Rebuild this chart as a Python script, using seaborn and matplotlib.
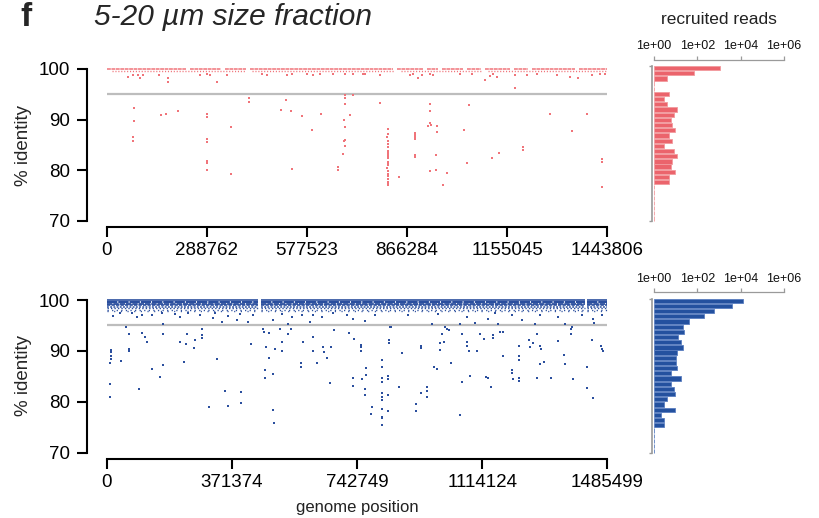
import numpy as np
import pandas as pd
import matplotlib
matplotlib.use("Agg")
import matplotlib.pyplot as plt
import seaborn as sns

sns.set_theme(style="white")
plt.rcParams["font.family"] = ["Liberation Sans", "DejaVu Sans"]

# ---------------- data ----------------
top_len = 1443806
bot_len = 1485499
top_xticks = [0, 288762, 577523, 866284, 1155045, 1443806]
bot_xticks = [0, 371374, 742749, 1114124, 1485499]
y_ticks = [70, 80, 90, 100]
hist_ticks = [1, 1e2, 1e4, 1e6]
hist_tick_labels = ["1e+00", "1e+02", "1e+04", "1e+06"]
hist_bins = list(range(100, 70, -1))  # 100 .. 71

top_counts = [1100, 68, 4, 0, 0, 5, 3, 4, 12, 8, 6, 7, 9, 5, 7, 3, 8, 11,
              7, 6, 9, 5, 5, 0, 0, 0, 0, 0, 0, 0]
bot_counts = [12900, 3800, 610, 196, 43, 22, 23, 13, 18, 22, 12, 10, 10, 11,
              6, 18, 6, 8, 9, 4, 3, 9, 2, 3, 3, 0, 0, 0, 0, 0]

# dense near-identical read rows (identity level, segment starts, segment ends)
top_row_levels = [100.0, 99.6]
top_row_starts = [[0, 240e3, 340e3, 412e3, 836e3, 923e3, 966e3, 1038e3, 1090e3, 1174e3, 1226e3, 1361e3],
                  [15e3, 420e3, 850e3, 1100e3]]
top_row_ends = [[230e3, 330e3, 402e3, 826e3, 913e3, 956e3, 1028e3, 1080e3, 1164e3, 1216e3, 1351e3, 1443806],
                [400e3, 830e3, 1080e3, 1440e3]]

bot_row_levels = [100.0, 99.55, 99.25, 98.95, 98.65, 98.35, 98.05, 97.75]
bot_row_starts = [0, 457e3, 1425e3]
bot_row_ends = [450e3, 1418e3, 1485499]

top_pts_x = [77900, 77900, 76000, 76000, 157500, 172000, 206500, 288400, 288400, 288400, 288400,
             288400, 288400, 288400, 358500, 358500, 409600, 409600, 501800, 516300, 531600,
             534500, 563400, 591300, 618100, 666300, 666300, 680700, 683000, 686000, 687000,
             685000, 687000, 687000, 687000, 710000, 701800, 687000, 787400,
             812300, 812300, 812300, 812300, 812300, 812300, 812300, 812300, 812300, 812300,
             812300, 812300, 812300, 812300, 812300, 812300, 812300, 812300, 812300, 812300,
             809000, 809000,
             844100, 890300, 890300, 890300, 890300, 890300, 890300, 926000, 932600, 933500,
             933500, 934000, 953700, 953000, 950000, 932600, 950000, 980600, 969000, 1030600,
             1039300, 1045000, 1110400, 1131500, 1200700, 1200700, 1278600, 1341200, 1384400,
             1428600, 1428600, 1428600, 1176800,
             62300, 91200, 96000, 76700, 105600, 177700, 177700, 151700, 269100, 288400, 297900,
             317300, 346100, 447000, 461500, 519200, 533600, 576800, 596000, 615200, 653600,
             687300, 711300, 740100, 745000, 788200, 874800, 898800, 884300, 908500, 932500,
             942100, 1019000, 1052700, 1091100, 1105500, 1124800, 1115000, 1177600, 1211400,
             1240200, 1297900, 1336300, 1360200, 1398800, 1422800, 1437200]
top_pts_y = [92.35, 89.8, 86.6, 85.8, 90.9, 91.0, 91.6, 91.0, 90.5, 86.2, 85.6,
             81.8, 81.4, 80.0, 88.5, 79.2, 94.2, 93.5, 91.9, 93.8, 91.7,
             80.3, 90.8, 88.0, 91.0, 80.7, 80.1, 83.1, 85.8, 86.0, 84.8,
             90.0, 93.0, 94.3, 94.9, 94.9, 90.9, 88.6, 93.3,
             88.14, 87.15, 85.77, 85.18, 84.52, 83.86, 83.40, 83.07, 82.81, 82.41,
             81.55, 81.29, 80.96, 79.84, 79.31, 78.92, 78.26, 77.73, 77.40, 77.08,
             86.5, 80.5,
             78.6, 87.3, 86.9, 86.6, 86.2, 83.0, 82.5, 88.7, 93.0, 91.6,
             89.3, 88.9, 88.7, 87.6, 82.9, 79.9, 80.1, 79.4, 77.1, 87.9,
             81.5, 92.9, 82.4, 83.3, 84.6, 83.9, 91.0, 87.7, 91.1,
             82.2, 81.7, 76.7, 96.2,
             98.4, 98.8, 98.2, 98.8, 98.8, 98.2, 97.5, 98.8, 98.8, 99.0, 98.8,
             97.5, 98.8, 99.0, 98.8, 98.8, 99.0, 99.1, 98.8, 99.1, 99.1,
             99.0, 99.0, 99.0, 99.1, 98.8, 98.8, 98.2, 99.0, 98.8, 99.0,
             98.8, 99.0, 99.0, 97.8, 98.6, 98.4, 99.1, 98.8, 98.8,
             99.1, 98.8, 98.4, 98.2, 98.8, 99.1, 99.0]

bot_pts_x = [9800, 12800, 12800, 12800, 12800, 10700, 10700, 41500, 57300, 66200, 66200, 67000,
             95800, 103900, 112800, 119600, 134400, 158200, 167100, 167100, 217500, 228500,
             234400, 239200, 260000, 262000, 283800, 283800, 283800, 302600, 328300, 350200,
             360000, 397700, 398500, 428200, 464700, 465500, 472700, 470700, 470000, 482500,
             482500, 492600, 494400, 496000, 500300, 513400, 519300, 519300, 537100, 546900,
             576600, 576600, 581600, 613100, 612500, 624100, 642000, 645000, 652800, 662600,
             665600, 674500, 719900, 734800, 731800, 731800, 753700, 755000, 753700, 758500,
             765600, 765600, 768600, 768600, 786400, 783400,
             817900, 817900, 817900, 817900, 817900, 817900, 817900, 817900, 817900, 817900, 817900,
             834800, 834800, 835500, 834800, 836800, 836800, 843700, 868300, 877200, 916900,
             916900, 931800, 931800, 931800, 951400, 951400, 951400, 972100, 979000, 988200,
             990000, 1000900, 995900, 1009800, 1016000, 1021700, 1048400, 1055300, 1053500,
             1068300, 1069300, 1076000, 1077200, 1098000, 1107800, 1119700, 1127000, 1133000,
             1140400, 1145400, 1145400, 1168000, 1177000, 1175100, 1204200, 1204200, 1205000,
             1222600, 1222600, 1223500, 1223500, 1223500, 1253200, 1257200, 1264100, 1277800,
             1276000, 1285700, 1287700, 1285700, 1298600, 1318500, 1338400, 1358000, 1361000,
             1376900, 1376900, 1384700, 1424400, 1424400, 1439200, 1442200, 1467800, 1470800,
             1471800,
             19600, 39500, 74200, 89000, 103900, 133500, 163200, 168000, 202700, 217500, 242100,
             276900, 316300, 321400, 341300, 360800, 385800, 395600, 420200, 435000, 494400,
             519300, 538900, 549000, 578700, 603300, 613100, 638000, 672500, 712200, 731800,
             766500, 796200, 840700, 895000, 964400, 984000, 1003900, 1048400, 1068300,
             1092900, 1132400, 1152300, 1162100, 1201800, 1231500, 1271000, 1285800, 1340200,
             1360000, 1379900, 1409600, 1444000, 1447000, 1468900]
bot_pts_y = [87.6, 89.0, 89.8, 90.2, 88.4, 83.4, 81.0, 88.1, 94.6, 93.3, 90.4, 90.0,
             82.6, 93.5, 92.8, 91.8, 86.4, 84.9, 93.3, 87.2, 91.7, 87.8,
             91.4, 93.3, 90.5, 92.1, 94.4, 93.1, 92.5, 79.0, 88.4, 82.2,
             79.2, 82.0, 79.7, 91.3, 94.4, 93.8, 90.7, 86.2, 84.7, 93.6,
             88.7, 85.5, 78.3, 75.8, 90.4, 94.4, 89.9, 91.7, 93.3, 94.4,
             87.6, 86.9, 91.7, 92.8, 89.9, 87.6, 90.8, 89.7, 88.7, 83.6,
             90.8, 94.1, 93.6, 92.3, 84.6, 83.1, 91.2, 90.8, 90.0, 84.5,
             82.5, 81.3, 86.6, 85.3, 78.9, 77.6,
             88.3, 86.8, 84.7, 83.8, 81.7, 81.0, 80.4, 78.5, 77.1, 76.8, 75.4,
             85.1, 84.5, 81.3, 78.1, 92.1, 91.6, 94.6, 83.0, 89.6, 79.6,
             78.2, 91.0, 90.6, 81.8, 83.0, 82.1, 81.0, 86.8, 86.4, 91.6,
             90.2, 91.8, 93.3, 94.4, 94.1, 87.6, 77.4, 83.8, 93.3,
             91.8, 91.0, 89.9, 85.1, 89.9, 93.3, 92.3, 84.8, 84.6,
             83.0, 93.1, 92.5, 93.8, 93.7, 89.0, 86.2, 85.6, 84.4,
             89.0, 88.2, 91.0, 84.6, 84.1, 92.1, 90.8, 91.5, 93.3,
             84.6, 91.0, 90.4, 87.4, 87.9, 84.6, 91.9, 89.2, 87.4,
             94.4, 93.3, 84.4, 86.9, 82.8, 92.1, 80.7, 91.0, 90.4,
             89.9,
             96.9, 97.5, 97.5, 96.7, 97.1, 97.0, 97.5, 95.3, 97.3, 96.7, 97.5,
             97.1, 96.5, 97.5, 95.6, 96.9, 96.0, 97.3, 95.6, 97.0, 96.0,
             97.3, 95.3, 96.7, 97.0, 95.6, 97.1, 96.7, 97.5, 97.1, 96.3,
             95.8, 97.0, 94.7, 97.1, 95.3, 97.3, 94.6, 95.3, 96.7,
             95.4, 96.3, 97.5, 95.3, 97.0, 96.0, 95.3, 97.1, 96.7,
             95.3, 94.6, 97.0, 96.3, 95.4, 97.0]

# ---------------- styles ----------------
RED_PT = "#F0747A"
RED_BAR = "#EB646C"
BLUE_PT = "#2B4F9E"
BLUE_BAR = "#24519F"
GREY_LINE = "#BDBDBD"
HIST_AX = "#9A9A9A"

W, H = 820, 518
fig = plt.figure(figsize=(W / 100, H / 100), dpi=100)


def rect(l, t, r, b):
    return [l / W, 1 - b / H, (r - l) / W, (b - t) / H]


def style_scatter_axes(ax, glen, xticks):
    ax.set_xlim(-0.04 * glen, 1.04 * glen)
    ax.set_ylim(68.8, 101.2)
    for s in ["top", "right"]:
        ax.spines[s].set_visible(False)
    for s in ["left", "bottom"]:
        ax.spines[s].set_linewidth(1.5)
        ax.spines[s].set_color("black")
    ax.spines["left"].set_bounds(70, 100)
    ax.spines["bottom"].set_bounds(0, glen)
    ax.set_yticks(y_ticks)
    ax.set_yticklabels([str(v) for v in y_ticks])
    ax.set_xticks(xticks)
    ax.set_xticklabels([str(v) for v in xticks])
    ax.tick_params(axis="both", direction="out", length=7.2, width=1.5, color="black",
                   labelsize=13.5, labelcolor="black", left=True, bottom=True)
    ax.tick_params(axis="y", pad=5)
    ax.tick_params(axis="x", pad=4)
    ax.set_xlabel("")
    ax.set_ylabel("")
    ax.grid(False)
    ax.set_facecolor("none")


def style_hist_axes(ax, ymin, ymax, top_offset):
    ax.set_xscale("log")
    ax.set_xlim(10 ** ((652 - 654) / 21.67), 10 ** ((790 - 654) / 21.67))
    ax.set_ylim(ymin, ymax)
    for s in ["bottom", "right"]:
        ax.spines[s].set_visible(False)
    ax.spines["left"].set_color(HIST_AX)
    ax.spines["left"].set_linewidth(1.2)
    ax.spines["left"].set_bounds(70.6, 100.4)
    ax.spines["top"].set_color(HIST_AX)
    ax.spines["top"].set_linewidth(0.9)
    ax.spines["top"].set_bounds(1, 1e6)
    ax.spines["top"].set_position(("outward", top_offset))
    ax.xaxis.set_ticks_position("top")
    ax.set_xticks(hist_ticks)
    ax.set_xticklabels(hist_tick_labels)
    ax.xaxis.set_minor_locator(matplotlib.ticker.NullLocator())
    ax.tick_params(axis="x", which="major", direction="out", length=3, width=0.9,
                   color=HIST_AX, labelsize=9, labelcolor="#111111", pad=2.5, top=True, bottom=False)
    ax.set_yticks([70.6, 100.4])
    ax.set_yticklabels([])
    ax.tick_params(axis="y", direction="out", length=2, width=1.0, color=HIST_AX, left=True)
    ax.set_xlabel("")
    ax.set_ylabel("")
    ax.grid(False)
    ax.set_facecolor("none")


def draw_hist(ax, counts, color, edge):
    c = np.asarray(counts, dtype=float)
    widths = np.where(c > 1, c - 1, 0.015)
    ax.barh(hist_bins, widths, left=1, height=0.82, color=color, edgecolor=edge, linewidth=0.6)


# ---------------- top panel ----------------
ax1 = fig.add_axes(rect(86.7, 62.9, 627.3, 226.8))
ax1.hlines(95, 0, top_len, color=GREY_LINE, lw=1.6, zorder=1)
top_row_styles = [(0, (2.5, 0.4)), (0, (0.8, 1.3))]
top_row_lw = [1.1, 1.0]
for lev, st, en, ls, lw in zip(top_row_levels, top_row_starts, top_row_ends, top_row_styles, top_row_lw):
    ax1.hlines([lev] * len(st), st, en, color=RED_PT, lw=lw, linestyles=[ls], zorder=2)
df_top = pd.DataFrame({"pos": top_pts_x, "ident": top_pts_y})
sns.scatterplot(data=df_top, x="pos", y="ident", ax=ax1, s=1.8, color=RED_PT,
                linewidth=0, marker="s", zorder=3)
style_scatter_axes(ax1, top_len, top_xticks)

axh1 = fig.add_axes(rect(652, 62.9, 790, 226.8))
draw_hist(axh1, top_counts, RED_BAR, "#F29A9E")
style_hist_axes(axh1, 69.40, 100.983, 2.1)

# ---------------- bottom panel ----------------
ax2 = fig.add_axes(rect(86.7, 293.9, 627.3, 458.8))
ax2.hlines(95, 0, bot_len, color=GREY_LINE, lw=1.6, zorder=1)
bot_row_styles = ["solid", (0, (5, 0.4)), (0, (3, 0.5)), (0, (2.0, 0.7)),
                  (0, (1.2, 0.9)), (0, (1.0, 1.5)), (0, (0.9, 2.4)), (0, (0.8, 4.0))]
bot_row_lw = [1.2, 1.5, 1.3, 1.2, 1.1, 1.0, 1.0, 1.0]
for lev, ls, lw in zip(bot_row_levels, bot_row_styles, bot_row_lw):
    ax2.hlines([lev] * len(bot_row_starts), bot_row_starts, bot_row_ends, color=BLUE_PT,
               lw=lw, linestyles=[ls], zorder=2)
df_bot = pd.DataFrame({"pos": bot_pts_x, "ident": bot_pts_y})
sns.scatterplot(data=df_bot, x="pos", y="ident", ax=ax2, s=2.2, color=BLUE_PT,
                linewidth=0, marker="s", zorder=3)
style_scatter_axes(ax2, bot_len, bot_xticks)

axh2 = fig.add_axes(rect(652, 293.9, 790, 458.8))
draw_hist(axh2, bot_counts, BLUE_BAR, "#5A7EC0")
style_hist_axes(axh2, 69.54, 101.31, 1.15)

# ---------------- texts ----------------
fig.text(20 / W, 1 - 26 / H, "f", fontsize=24, fontweight="bold", va="baseline", ha="left")
fig.text(94 / W, 1 - 25 / H, "5-20 µm size fraction", fontsize=21.5, style="italic",
         va="baseline", ha="left")
fig.text(718.5 / W, 1 - 24 / H, "recruited reads", fontsize=12.5, color="#222222",
         va="baseline", ha="center")
fig.text(24 / W, 1 - 145 / H, "% identity", fontsize=13.5, rotation=90, va="center", ha="center")
fig.text(24 / W, 1 - 376 / H, "% identity", fontsize=13.5, rotation=90, va="center", ha="center")
fig.text(357 / W, 1 - 512 / H, "genome position", fontsize=12, color="#222222",
         va="baseline", ha="center")

fig.savefig("out.png", dpi=100)
